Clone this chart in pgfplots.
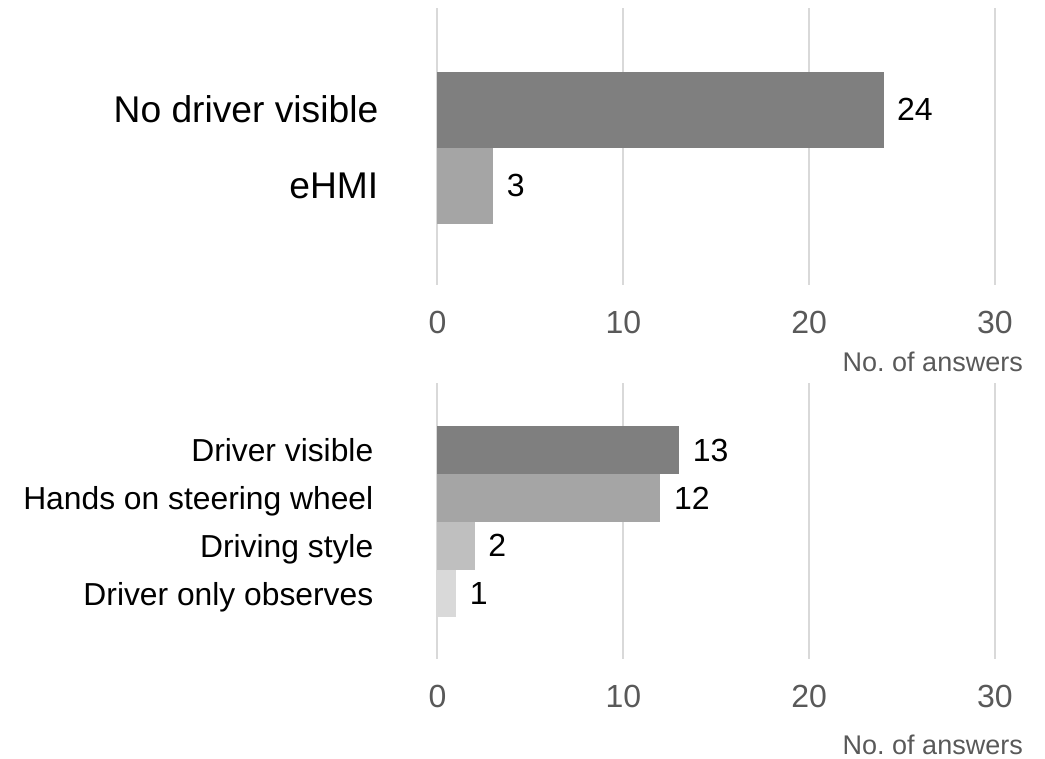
\documentclass[border=0pt]{standalone}
\usepackage{pgfplots}
\pgfplotsset{compat=1.18}
\usepackage{fontspec}
\setmainfont{Liberation Sans}
\frenchspacing
\definecolor{cA}{RGB}{127,127,127}
\definecolor{cB}{RGB}{165,165,165}
\definecolor{cC}{RGB}{191,191,191}
\definecolor{cD}{RGB}{217,217,217}
\definecolor{gridc}{RGB}{217,217,217}
\definecolor{tickc}{RGB}{89,89,89}
\pgfplotsset{
  mybase/.style={
    scale only axis, width=557.5pt,
    xmin=0, xmax=30, xtick={0,10,20,30},
    axis line style={draw=none}, tick style={draw=none},
    major tick length=0pt,
    xmajorgrids, grid style={color=gridc, line width=2pt},
    /pgf/number format/assume math mode=true,
    xticklabel style={font=\fontsize{32}{35}\selectfont, text=tickc, inner sep=0pt, anchor=north, yshift=-26pt},
    yticklabel style={inner sep=0pt, anchor=east, text depth=0pt, text=black},
    xlabel={No.\ of answers},
    xlabel style={font=\fontsize{27}{30}\selectfont, text=tickc, at={(rel axis cs:1,0)}, anchor=base east, inner sep=0pt, xshift=28pt},
    nodes near coords style={font=\fontsize{32}{35}\selectfont, text=black, anchor=west, inner sep=0pt, xshift=13.5pt},
    clip=false,
  },
  mybar/.style={xbar, bar width=1, bar shift=0pt, draw=none, fill=#1, nodes near coords},
}
\begin{document}
\begin{tikzpicture}[x=1pt,y=1pt]
\useasboundingbox (0,0) rectangle (1045,759);
% top panel
\begin{axis}[mybase,
  at={(437.5pt,474pt)}, anchor=south west, height=277pt,
  ymin=-1.309, ymax=2.336,
  ytick={0,1}, yticklabels={eHMI, No driver visible},
  yticklabel style={font=\fontsize{37.2}{40}\selectfont, xshift=-59pt},
  xlabel style={yshift=-87pt},
]
\addplot[mybar=cA] coordinates {(24,1)};
\addplot[mybar=cB] coordinates {(3,0)};
\end{axis}
% bottom panel
\begin{axis}[mybase,
  at={(437.5pt,100pt)}, anchor=south west, height=276pt,
  ymin=-1.369, ymax=4.401,
  ytick={0,1,2,3}, yticklabels={Driver only observes, Driving style, Hands on steering wheel, Driver visible},
  yticklabel style={font=\fontsize{31.8}{35}\selectfont, xshift=-64pt},
  xlabel style={yshift=-96pt},
]
\addplot[mybar=cA] coordinates {(13,3)};
\addplot[mybar=cB] coordinates {(12,2)};
\addplot[mybar=cC] coordinates {(2,1)};
\addplot[mybar=cD] coordinates {(1,0)};
\end{axis}
\end{tikzpicture}
\end{document}
